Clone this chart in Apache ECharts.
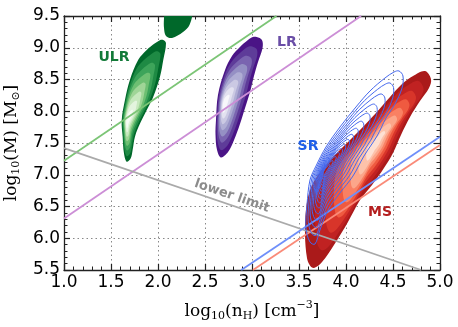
<!DOCTYPE html>
<html>
<head>
<meta charset="utf-8">
<script src="https://cdn.jsdelivr.net/npm/echarts@6/dist/echarts.min.js"></script>
<style>
html,body{margin:0;padding:0;background:#fff;}
#chart{width:458px;height:327px;}
</style>
</head>
<body>
<div id="chart"></div>
<script>
// outlines, [log10(nH), log10(M)]
var ulrTop = [[2.074,9.563],[2.351,9.563],[2.335,9.358],[2.266,9.248],[2.149,9.154],[2.085,9.185],[2.064,9.311],[2.064,9.469]];
var ulrOutline = [[2.056,9.122],[2.085,9.07],[2.056,8.807],[2.021,8.544],[1.95,8.229],[1.88,8.02],[1.81,7.81],[1.755,7.60],[1.73,7.39],[1.71,7.26],[1.667,7.205],[1.638,7.338],[1.624,7.60],[1.614,7.86],[1.649,8.18],[1.70,8.49],[1.79,8.81],[1.88,8.965],[1.968,9.07],[2.02,9.12]];
var ulrPeak = [1.67, 7.83];

var lrOutline = [[3.05,9.169],[3.106,9.122],[3.112,8.996],[3.064,8.776],[3.021,8.555],[2.979,8.303],[2.926,8.051],[2.872,7.80],[2.809,7.547],[2.745,7.358],[2.67,7.272],[2.628,7.39],[2.612,7.626],[2.617,7.862],[2.638,8.256],[2.713,8.65],[2.787,8.87],[2.872,9.012],[2.957,9.122],[3.01,9.169]];
var lrPeak = [2.70, 8.10];

var msOutline = [[4.840,8.634],[4.904,8.508],[4.883,8.366],[4.787,8.161],[4.681,7.909],[4.585,7.626],[4.500,7.343],[4.404,7.106],[4.277,6.839],[4.149,6.602],[4.021,6.256],[3.872,5.894],[3.745,5.626],[3.660,5.531],[3.617,5.57],[3.585,5.689],[3.564,6.051],[3.574,6.445],[3.617,6.760],[3.702,6.996],[3.830,7.232],[3.989,7.469],[4.149,7.705],[4.309,7.957],[4.468,8.224],[4.596,8.429],[4.713,8.555]];
var msPeak = [4.33, 7.52];

var srOutline = [[4.564,8.634],[4.606,8.555],[4.596,8.366],[4.521,8.114],[4.426,7.894],[4.330,7.610],[4.191,7.295],[4.074,6.980],[3.936,6.713],[3.809,6.445],[3.723,6.130],[3.670,5.909],[3.617,5.941],[3.574,6.161],[3.585,6.524],[3.617,6.917],[3.681,7.138],[3.787,7.437],[3.936,7.752],[4.106,8.067],[4.255,8.319],[4.415,8.524],[4.511,8.618]];
var srPeak = [3.77, 7.05];

// straight lines, two points each
var lineULR = [[1.0,7.22],[3.26,9.5]];
var lineLR = [[1.0,6.31],[4.16,9.5]];
var lineSR = [[2.886,5.5],[5.0,7.6]];
var lineMS = [[3.01,5.5],[5.0,7.47]];
var lineLower = [[1.0,7.42],[4.8,5.5]];

// text labels
var labelText = ['ULR', 'LR', 'SR', 'MS', 'lower limit'];
var labelPos = [[1.532,8.854],[3.372,9.09],[3.596,7.453],[4.362,6.413],[2.787,6.665]];

// contour levels (outer -> inner)
var fillScales = [1, 0.86, 0.72, 0.6, 0.48, 0.37, 0.26, 0.15];
var lineScales = [1, 0.88, 0.77, 0.67, 0.58, 0.5, 0.43, 0.37, 0.32, 0.27, 0.23, 0.19, 0.15, 0.11, 0.07];

var greens = ['#00682a','#1e8a44','#3da45a','#6dbf72','#9fd597','#c6e8bd','#e3f4de','#f7fcf5'];
var purples = ['#4a1486','#5e3c99','#7a64b0','#9590c4','#afadd4','#cbc9e3','#e3e2f0','#f8f7fb'];
var reds = ['#aa1a1a','#c02222','#d8352a','#ef5a40','#f98063','#fca68a','#fdc2aa','#fee0d2'];

var labelColor = ['#127a38', '#6a4ea6', '#1f5fe8', '#b41f1f', '#8c8c8c'];
var labelSize = [14, 14, 14, 14, 13];
var labelRot = [0, 0, 0, 0, -0.33];

function shrink(outline, peak, s) {
	return outline.map(function (p) {
		return [peak[0] + (p[0] - peak[0]) * s, peak[1] + (p[1] - peak[1]) * s];
	});
}

function blobSeries(outline, peak, scales, colors, filled) {
	return {
		type: 'custom',
		clip: true,
		silent: true,
		data: scales.map(function (s, i) { return [i]; }),
		renderItem: function (params, api) {
			var i = params.dataIndex;
			var pts = shrink(outline, peak, scales[i]).map(function (p) { return api.coord(p); });
			return {
				type: 'polygon',
				shape: { points: pts, smooth: 0.35 },
				style: filled
					? { fill: colors[i], stroke: null }
					: { fill: 'none', stroke: colors, lineWidth: 1 }
			};
		}
	};
}

function straight(data, color) {
	return {
		type: 'line',
		data: data,
		symbol: 'none',
		silent: true,
		lineStyle: { color: color, width: 1.8 },
		z: 3
	};
}

var axisColor = '#222';
var mathFont = 'DejaVu Serif';
var nameRich = {
	a: { fontFamily: mathFont, fontSize: 17, lineHeight: 24, color: '#000' },
	s: { fontFamily: mathFont, fontSize: 11, color: '#000', verticalAlign: 'top', padding: [11, 0, 0, 0] },
	p: { fontFamily: mathFont, fontSize: 11, color: '#000', verticalAlign: 'top', padding: [0, 0, 0, 0] }
};

function baseAxis(pos, min, max, showLabels) {
	return {
		type: 'value',
		position: pos,
		min: min,
		max: max,
		interval: 0.5,
		axisLine: { show: true, onZero: false, lineStyle: { color: axisColor, width: 1.3 } },
		axisTick: { show: true, inside: true, length: 6, lineStyle: { color: axisColor, width: 1.2 } },
		minorTick: { show: true, splitNumber: 5, length: 3.5, lineStyle: { color: axisColor, width: 1 } },
		axisLabel: {
			show: showLabels,
			fontFamily: 'DejaVu Sans',
			fontSize: 17,
			color: '#000',
			margin: 4,
			formatter: function (v) { return v.toFixed(1); }
		},
		splitLine: { show: showLabels, lineStyle: { color: '#888', type: [1.5, 3], width: 1 } }
	};
}

var xBottom = baseAxis('bottom', 1.0, 5.0, true);
xBottom.name = '{a|log}{s|10}{a|(n}{s|H}{a|) [cm}{p|\u22123}{a|]}';
xBottom.nameLocation = 'middle';
xBottom.nameGap = 30;
xBottom.nameTextStyle = { rich: nameRich };
var xTop = baseAxis('top', 1.0, 5.0, false);

var yLeft = baseAxis('left', 5.5, 9.5, true);
yLeft.name = '{a|log}{s|10}{a|(M) [M}{s|\u2299}{a|]}';
yLeft.nameLocation = 'middle';
yLeft.nameGap = 38;
yLeft.nameRotate = 90;
yLeft.nameTextStyle = { rich: nameRich };
var yRight = baseAxis('right', 5.5, 9.5, false);

var series = [
	blobSeries(ulrTop, [2.2, 9.35], [1], ['#00682a'], true),
	blobSeries(ulrOutline, ulrPeak, fillScales, greens, true),
	blobSeries(lrOutline, lrPeak, fillScales, purples, true),
	blobSeries(msOutline, msPeak, fillScales, reds, true),
	straight(lineULR, '#7cc576'),
	straight(lineLR, '#cc8ed6'),
	straight(lineLower, '#aaaaaa'),
	straight(lineSR, '#6f8ffa'),
	straight(lineMS, '#fa8a78'),
	blobSeries(srOutline, srPeak, lineScales, '#4568ee', false),
	{
		type: 'custom',
		silent: true,
		z: 5,
		data: labelText.map(function (t, i) { return labelPos[i]; }),
		renderItem: function (params, api) {
			var i = params.dataIndex;
			var p = api.coord(labelPos[i]);
			return {
				type: 'text',
				x: p[0],
				y: p[1],
				rotation: labelRot[i],
				style: {
					text: labelText[i],
					fill: labelColor[i],
					font: 'bold ' + labelSize[i] + 'px "DejaVu Sans"',
					align: 'center',
					verticalAlign: 'middle'
				}
			};
		}
	}
];

series.forEach(function (s, i) {
	s.xAxisIndex = 0;
	s.yAxisIndex = 0;
	if (s.z === undefined) s.z = 2;
});
series[9].z = 4;

var chart = echarts.init(document.getElementById('chart'));
chart.setOption({
	animation: false,
	backgroundColor: '#fff',
	grid: { left: 64, right: 18, top: 16, bottom: 57, outerBoundsMode: 'none' },
	xAxis: [xBottom, xTop],
	yAxis: [yLeft, yRight],
	series: series
});
</script>
</body>
</html>
